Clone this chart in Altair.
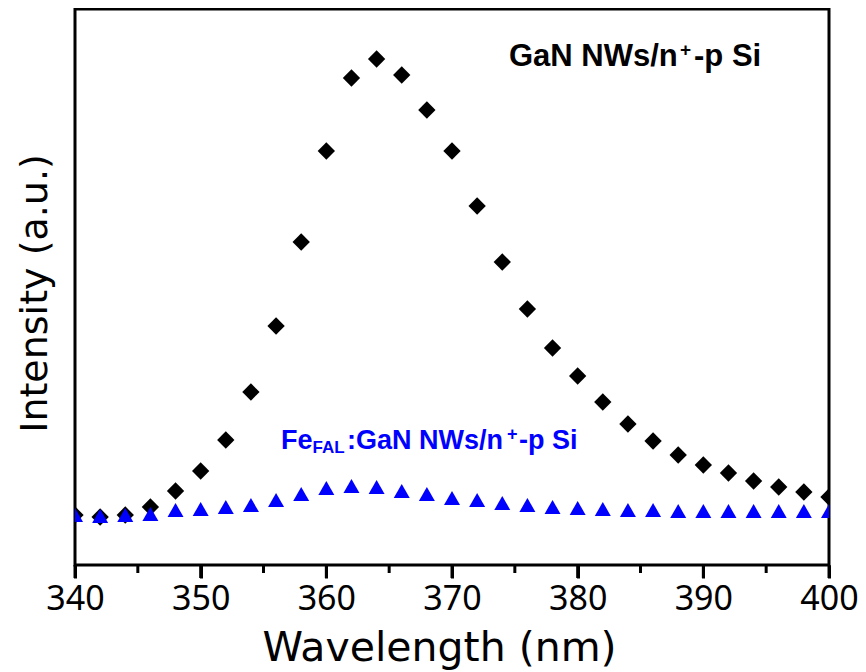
import altair as alt
import pandas as pd

# Wavelength (nm)
wavelength = [340, 342, 344, 346, 348, 350, 352, 354, 356, 358, 360, 362, 364, 366, 368, 370,
              372, 374, 376, 378, 380, 382, 384, 386, 388, 390, 392, 394, 396, 398, 400]
# GaN NWs/n+-p Si (black diamonds), arbitrary units
gan = [50, 48, 50, 58, 74, 94, 125, 173, 239, 323, 414, 487, 506, 490, 455, 414,
       359, 303, 256, 217, 189, 163, 141, 124, 110, 100, 92, 84, 78, 73, 68]
# Fe_FAL:GaN NWs/n+-p Si (blue triangles), arbitrary units
fegan = [50, 49, 50, 51, 55, 56, 58, 60, 65, 71, 77, 79, 78, 74, 71, 67,
         65, 62, 60, 58, 57, 56, 55, 55, 54, 54, 54, 54, 54, 54, 54]

# Axis tick values
major_ticks = [340, 350, 360, 370, 380, 390, 400]
minor_ticks = [345, 355, 365, 375, 385, 395]

# Annotation pieces (sub/superscripts as separate pieces)
ann_text = ["GaN NWs/n", "+", "-p Si", "Fe", "FAL", ":GaN NWs/n", "+", "-p Si"]
ann_x = [374.53, 388.14, 389.26, 356.39, 358.9, 361.64, 374.38, 375.33]
ann_y = [499, 509, 499, 116, 112, 116, 125, 116]
ann_size = [31, 19, 31, 27, 17, 27, 18, 27]
ann_color = ["black", "black", "black", "blue", "blue", "blue", "blue", "blue"]

df_gan = pd.DataFrame({"wl": wavelength, "val": gan})
df_fe = pd.DataFrame({"wl": wavelength, "val": fegan})
df_ann = pd.DataFrame({"x": ann_x, "y": ann_y, "text": ann_text,
                       "size": ann_size, "color": ann_color})
df_major = pd.DataFrame({"t": major_ticks, "v": [0] * len(major_ticks)})
df_minor = pd.DataFrame({"t": minor_ticks, "v": [0] * len(minor_ticks)})

LABEL_FONT = "Noto Sans"
TITLE_FONT = "DejaVu Sans"
H = 556

x_scale = alt.Scale(domain=[340, 400], nice=False, zero=False)
y_scale = alt.Scale(domain=[0, 556], nice=False, zero=False)

x_axis = alt.Axis(
    title="Wavelength (nm)",
    values=major_ticks,
    ticks=True, tickSize=13, tickWidth=3, tickColor="#000000",
    domain=False, grid=False,
    labelFont=LABEL_FONT, labelFontSize=34, labelColor="black", labelPadding=4,
    labelFlush=False, labelOverlap=False,
    titleFont=TITLE_FONT, titleFontSize=41, titleFontWeight="normal", titleColor="black",
    titlePadding=12, titleX=364,
)
y_axis = alt.Axis(
    title="Intensity (a.u.)", labels=False, ticks=False, domain=False, grid=False,
    titleFont=TITLE_FONT, titleFontSize=38, titleFontWeight="normal", titleColor="black",
    titlePadding=21, titleY=284,
)

X = alt.X("wl:Q", scale=x_scale, axis=x_axis)
Y = alt.Y("val:Q", scale=y_scale, axis=y_axis)

black = alt.Chart(df_gan).mark_point(
    shape="diamond", filled=True, size=300, color="black", opacity=1, clip=True
).encode(x=X, y=Y)

blue = alt.Chart(df_fe).mark_point(
    shape="triangle-up", filled=True, size=256, color="#0000FF", opacity=1, clip=True
).encode(x=X, y=Y)

# tick marks drawn as small filled bars hanging below the x axis
major = alt.Chart(df_major).mark_point(
    shape="M-0.115,0H0.115V1H-0.115Z", filled=True, size=676,
    color="#000000", opacity=1, strokeWidth=0, clip=False
).encode(
    x=alt.X("t:Q", scale=x_scale, axis=x_axis),
    y=alt.Y("v:Q", scale=y_scale, axis=y_axis),
)
minor = alt.Chart(df_minor).mark_point(
    shape="M-0.1875,0H0.1875V1H-0.1875Z", filled=True, size=256,
    color="#000000", opacity=1, strokeWidth=0, clip=False
).encode(
    x=alt.X("t:Q", scale=x_scale, axis=x_axis),
    y=alt.Y("v:Q", scale=y_scale, axis=y_axis),
)

ann = alt.Chart(df_ann).mark_text(
    align="left", baseline="alphabetic", font="Liberation Sans", fontWeight="bold"
).encode(
    x=alt.X("x:Q", scale=x_scale, axis=x_axis),
    y=alt.Y("y:Q", scale=y_scale, axis=y_axis),
    text="text:N",
    size=alt.Size("size:Q", scale=None, legend=None),
    color=alt.Color("color:N", scale=None, legend=None),
)

chart = alt.layer(black, blue, ann, major, minor).properties(
    width=754, height=H,
    background="white",
    autosize=alt.AutoSizeParams(type="none"),
    padding={"left": 67, "top": 1, "right": 29, "bottom": 107},
).configure_view(stroke="black", strokeWidth=3)

chart.save("out.html", embed_options={"renderer": "svg", "actions": False})
